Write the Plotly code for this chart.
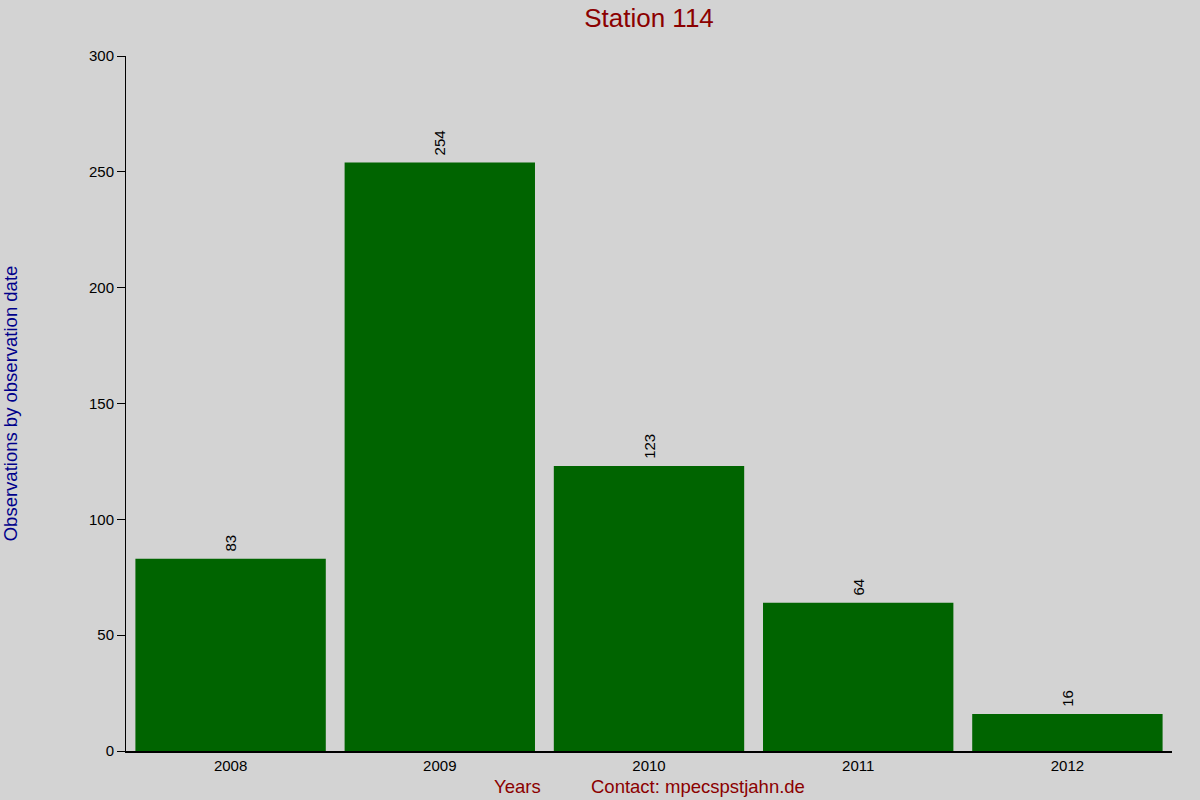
import plotly.graph_objects as go

# observations per year for station 114
years = ["2008", "2009", "2010", "2011", "2012"]
counts = [83, 254, 123, 64, 16]

fig = go.Figure()
fig.add_trace(go.Bar(
    x=years, y=counts,
    marker=dict(color="#006400", line=dict(width=0)),
    text=[" " + str(c) for c in counts],
    textposition="outside", textangle=-90,
    textfont=dict(size=15, color="black"),
    cliponaxis=False,
))

fig.update_layout(
    width=1200, height=800,
    paper_bgcolor="#d3d3d3", plot_bgcolor="#d3d3d3",
    font=dict(family="Liberation Sans, Arial, sans-serif", size=15, color="black"),
    margin=dict(l=126, r=28, t=56, b=49, autoexpand=False),
    bargap=0.09,
    showlegend=False,
    title=dict(text="Station 114", x=(126 + 1172) / 2 / 1200, xanchor="center",
               y=1 - 18 / 800, yanchor="middle",
               font=dict(size=26, color="#8b0000")),
)
fig.update_xaxes(showgrid=False, showline=True, linecolor="black", linewidth=1.5,
                 ticks="", tickfont=dict(size=15), automargin=False)
fig.update_yaxes(range=[0, 300], dtick=50, showgrid=False, zeroline=False,
                 showline=True, linecolor="black", linewidth=1,
                 ticks="outside", ticklen=8, tickcolor="black", tickfont=dict(size=15),
                 automargin=False,
                 title=dict(text="Observations by observation date",
                            font=dict(size=18.5, color="#00008b"), standoff=68))

fig.add_annotation(text="Years", xref="paper", yref="paper", x=(517 - 126) / 1046, y=0,
                   yshift=-35, yanchor="middle", showarrow=False,
                   font=dict(size=18.5, color="#8b0000"))
fig.add_annotation(text="Contact: mpecspstjahn.de", xref="paper", yref="paper",
                   x=(698 - 126) / 1046, y=0, yshift=-35, yanchor="middle", showarrow=False,
                   font=dict(size=18.5, color="#8b0000"))

fig.write_html("out.html", config={"displayModeBar": False},
               post_script="document.body.style.margin='0';")
